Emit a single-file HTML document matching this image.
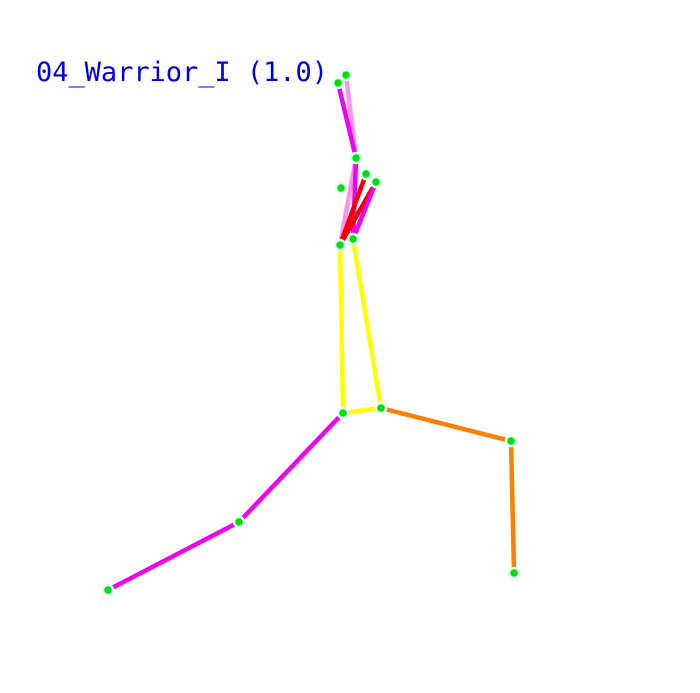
<!DOCTYPE html>
<html><head><meta charset="utf-8"><style>
html,body{margin:0;padding:0;background:#fff;width:700px;height:693px;overflow:hidden}
svg{display:block}
</style></head><body>
<svg width="700" height="693" viewBox="0 0 700 693">
<text x="36" y="81" font-family="DejaVu Sans Mono, monospace" font-size="27" fill="#0000e0" textLength="292">04_Warrior_I (1.0)</text>
<g id="bones"></g>
<g id="joints"></g>
</svg>
<script>
const jointNames = ['A','B','C','D','E','F','G','H','I','J','K','L','M','N'];
const jointX = [338,346,356,341,366,376,340,353,343,381,511,514,239,108];
const jointY = [83,75,158,188,174,182,245,239,413,408,441,573,522,590];
const boneFrom = ['B','A','C','C','E','F','F','G','H','I','J','K','I','M'];
const boneTo   = ['C','C','G','H','G','G','H','I','J','J','K','L','M','N'];
const boneColor = ['#ff90f0','#f000f0','#ff90f0','#f000f0','#f00000','#f00000','#f000f0','#ffff00','#ffff00','#ffff00','#ff8000','#ff8000','#f000f0','#f000f0'];
const NS='http://www.w3.org/2000/svg';
const bones=document.getElementById('bones'), joints=document.getElementById('joints');
function px(n){return jointX[jointNames.indexOf(n)];}
function py(n){return jointY[jointNames.indexOf(n)];}
for(let i=0;i<boneFrom.length;i++){
  const l=document.createElementNS(NS,'line');
  l.setAttribute('x1',px(boneFrom[i]));l.setAttribute('y1',py(boneFrom[i]));
  l.setAttribute('x2',px(boneTo[i]));l.setAttribute('y2',py(boneTo[i]));
  l.setAttribute('stroke',boneColor[i]);l.setAttribute('stroke-width','4.5');
  
  
  bones.appendChild(l);
}
for(let i=0;i<jointX.length;i++){
  const c=document.createElementNS(NS,'circle');
  c.setAttribute('cx',jointX[i]);c.setAttribute('cy',jointY[i]);c.setAttribute('r','5');
  c.setAttribute('fill','#00e000');c.setAttribute('stroke','#e0fff8');c.setAttribute('stroke-width','2.5');
  
  
  joints.appendChild(c);
}
</script>
</body></html>
